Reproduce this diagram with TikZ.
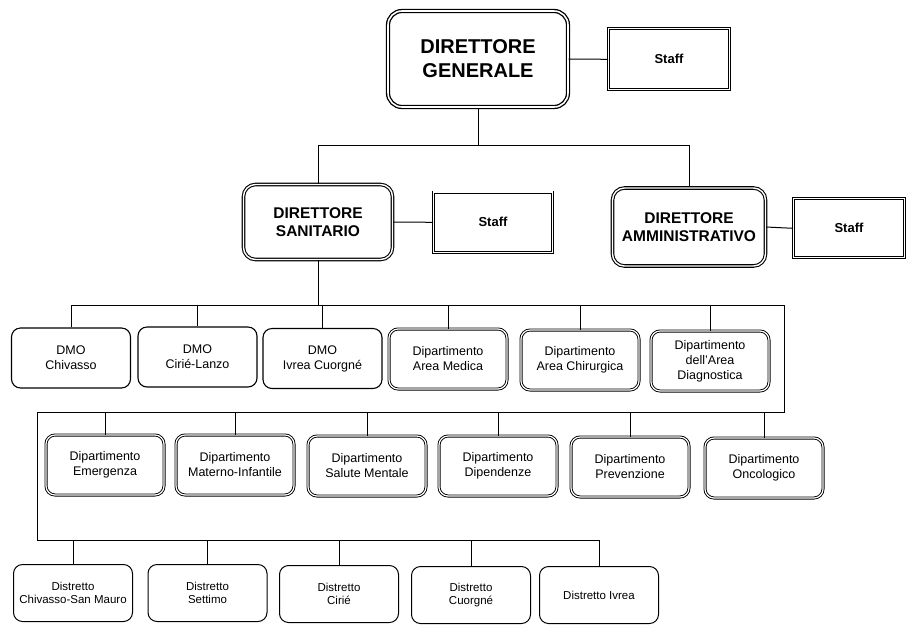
\documentclass[tikz,border=0pt]{standalone}
\usepackage{fontspec}
\setmainfont{Liberation Sans}
\begin{document}
\begin{tikzpicture}[x=1pt,y=-1pt,
  topbox/.style={draw, double, line width=1.3pt, double distance=1.6pt, rounded corners=14pt, align=center, inner sep=1pt, font=\bfseries\fontsize{20}{24}\selectfont},
  midbox/.style={draw, double, line width=1.1pt, double distance=1.4pt, rounded corners=12pt, align=center, inner sep=1pt, font=\bfseries\fontsize{15.5}{18}\selectfont},
  staffbox/.style={draw, double, line width=0.9pt, double distance=1.2pt, align=center, inner sep=1pt, font=\bfseries\fontsize{13}{15}\selectfont},
  dmobox/.style={draw, line width=1.1pt, rounded corners=9pt, align=center, inner sep=1pt, minimum width=119pt, minimum height=60pt, font=\fontsize{12.5}{15}\selectfont},
  dipbox/.style={draw, double, line width=0.9pt, double distance=1.2pt, rounded corners=9pt, align=center, inner sep=1pt, minimum width=118pt, minimum height=60pt, font=\fontsize{12.5}{15}\selectfont},
  distbox/.style={draw, line width=1pt, rounded corners=9pt, align=center, inner sep=1pt, minimum width=119pt, minimum height=57pt, font=\fontsize{11.5}{13.5}\selectfont},
  conn/.style={line width=1pt}
]
\useasboundingbox[fill=white] (0,0) rectangle (907,625);

% top level
\node[topbox, minimum width=180pt, minimum height=96pt] (dg) at (478,59) {DIRETTORE\\GENERALE};
\node[staffbox, minimum width=121pt, minimum height=61pt] (s1) at (669,59.3) {Staff};
\node[staffbox, minimum width=119pt, minimum height=60.6pt] (s2) at (493,222.3) {Staff};
\node[midbox, minimum width=149pt, minimum height=75pt] (ds) at (318,222) {DIRETTORE\\SANITARIO};
\node[midbox, minimum width=153pt, minimum height=78pt] (da) at (689,227) {DIRETTORE\\AMMINISTRATIVO};
\node[staffbox, minimum width=111pt, minimum height=59pt] (s3) at (849,228.3) {Staff};

% row 1
\node[dmobox] (m1) at (71,358) {DMO\\Chivasso};
\node[dmobox] (m2) at (197.5,357) {DMO\\Cirié-Lanzo};
\node[dmobox] (m3) at (322.5,358.5) {DMO\\Ivrea Cuorgné};
\node[dipbox] (m4) at (448,359) {Dipartimento\\Area Medica};
\node[dipbox] (m5) at (580,360) {Dipartimento\\Area Chirurgica};
\node[dipbox] (m6) at (710,361) {Dipartimento\\dell’Area\\Diagnostica};

% row 2
\node[dipbox] (n1) at (105,465) {Dipartimento\\Emergenza};
\node[dipbox] (n2) at (235,465) {Dipartimento\\Materno-Infantile};
\node[dipbox] (n3) at (367,466) {Dipartimento\\Salute Mentale};
\node[dipbox] (n4) at (498,466) {Dipartimento\\Dipendenze};
\node[dipbox] (n5) at (630,467) {Dipartimento\\Prevenzione};
\node[dipbox] (n6) at (764,468) {Dipartimento\\Oncologico};

% row 3
\node[distbox] (t1) at (73,593) {Distretto\\Chivasso-San Mauro};
\node[distbox] (t2) at (207.5,593) {Distretto\\Settimo};
\node[distbox] (t3) at (339,594) {Distretto\\Cirié};
\node[distbox] (t4) at (471,595) {Distretto\\Cuorgné};
\node[distbox] (t5) at (599,595) {Distretto Ivrea};

% bus coordinates
\coordinate (b0) at (0,145);
\coordinate (b1) at (784,305);
\coordinate (b2) at (37,412);
\coordinate (b3) at (37,540);

% connectors
\draw[conn] (dg.east) -- (s1.west);
\draw[conn] (ds.east) -- (s2.west);
\draw[conn] (da.east) -- (s3.west);
\draw[conn] (dg.south) -- (dg.south |- b0);
\draw[conn] (ds.north) |- (da.north |- b0) -- (da.north);
\draw[conn] (ds.south) -- (ds.south |- b1);
\draw[conn] (m1.north) |- (b1) -- (b1 |- b2) -- (b2) -- (b3) -| (t5.north);
\foreach \n in {m2,m3,m4,m5,m6} \draw[conn] (\n.north) -- (\n.north |- b1);
\foreach \n in {n1,n2,n3,n4,n5,n6} \draw[conn] (\n.north) -- (\n.north |- b2);
\foreach \n in {t1,t2,t3,t4} \draw[conn] (\n.north) -- (\n.north |- b3);
\end{tikzpicture}
\end{document}
